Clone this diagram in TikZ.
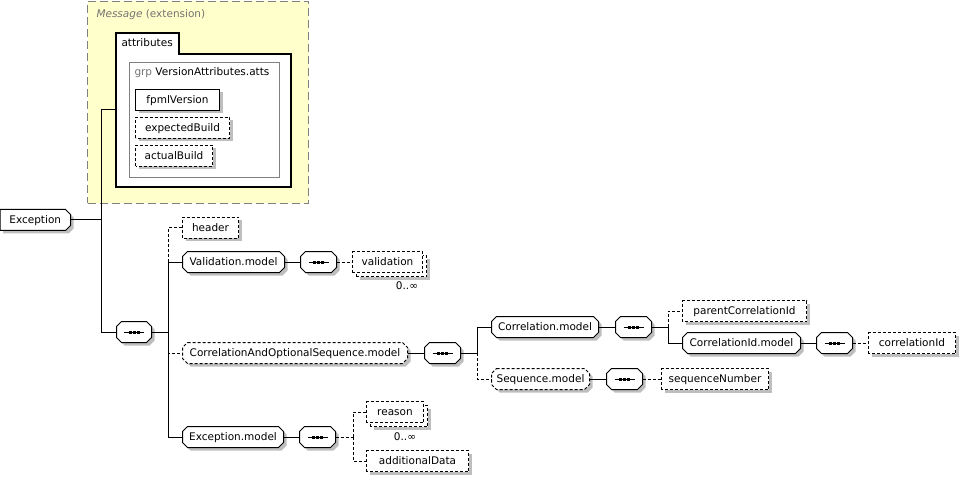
\documentclass[tikz,border=0pt]{standalone}
\usepackage{fontspec}
\setmainfont{DejaVu Sans}
\definecolor{shgray}{RGB}{190,190,190}
\definecolor{msgyellow}{RGB}{255,255,204}
\definecolor{msggray}{RGB}{128,128,128}
\definecolor{titlegray}{RGB}{115,115,115}
\pgfdeclarelayer{back}
\pgfdeclarelayer{shapes}
\pgfsetlayers{back,shapes,main}
\tikzset{
  every node/.style={font=\fontsize{10.5}{12}\selectfont, inner sep=0pt},
  box/.style={rectangle, minimum height=20pt, text height=8pt, text depth=1.5pt},
  opt/.style={dash pattern=on 3pt off 2pt},
  conn/.style={line width=1pt},
  optconn/.style={line width=1pt, dash pattern=on 3pt off 2pt},
  outline/.style={draw=black, fill=white, line width=1pt},
  shadowfill/.style={fill=shgray, draw=none},
}
% rectangle element with shadow
\newcommand\elemshape[2][]{%
  \fill[shadowfill] ([shift={(3pt,-3pt)}]#2.south west) rectangle ([shift={(3pt,-3pt)}]#2.north east);
  \draw[outline,#1] (#2.south west) rectangle (#2.north east);}
% repeated element (0..n)
\newcommand\multishape[1]{%
  \fill[shadowfill] ([shift={(7pt,-7pt)}]#1.south west) rectangle ([shift={(7pt,-7pt)}]#1.north east);
  \draw[outline,opt] ([shift={(4pt,-4pt)}]#1.south west) rectangle ([shift={(4pt,-4pt)}]#1.north east);
  \draw[outline,opt] (#1.south west) rectangle (#1.north east);}
% octagon path
\newcommand\octpath[3]{([shift={(#2+5pt,#3)}]#1.north west) -- ([shift={(#2-5pt,#3)}]#1.north east) -- ([shift={(#2,#3-5pt)}]#1.north east) -- ([shift={(#2,#3+5pt)}]#1.south east) -- ([shift={(#2-5pt,#3)}]#1.south east) -- ([shift={(#2+5pt,#3)}]#1.south west) -- ([shift={(#2,#3+5pt)}]#1.south west) -- ([shift={(#2,#3-5pt)}]#1.north west) -- cycle}
\newcommand\octshape[2][]{%
  \fill[shadowfill] \octpath{#2}{3pt}{-3pt};
  \draw[outline,#1] \octpath{#2}{0pt}{0pt};}
% compositor (sequence) icon
\newcommand\seqicon[1]{%
  \draw[line width=1pt] ([xshift=-10pt]#1.center) -- ([xshift=10pt]#1.center);
  \foreach \d in {-4pt,0pt,4pt}
    \fill ([xshift=\d]#1.center) +(-1.5pt,-1.5pt) rectangle +(1.5pt,1.5pt);}
\begin{document}
\begin{tikzpicture}[x=1pt, y=-1pt, line width=1pt]
\useasboundingbox (0,0) rectangle (960,478);

% ---------- nodes (text) ----------
\node[anchor=base west, text=titlegray] (msgtitle) at (96,17.5) {\itshape Message\upshape{} (extension)};
\node[anchor=base west] (attrlabel) at (121,47) {attributes};
\coordinate (attrL) at (116,110);
\node[anchor=base west] (grptitle) at (134,76) {\textcolor{titlegray}{grp} VersionAttributes.atts};

\node[box, minimum width=83pt] (fpml) at (177.5,100) {fpmlVersion};
\node[box, minimum width=93pt] (expb) at (182.5,128) {expectedBuild};
\node[box, minimum width=76pt] (actb) at (174,156) {actualBuild};

\node[box, minimum width=69.5pt] (exc) at (35.25,220) {Exception};

\node[box, minimum width=34pt] (seq1) at (134,332) {};
\node[box, minimum width=55pt] (header) at (210.5,228) {header};
\node[box, minimum width=101pt] (valm) at (233.5,262) {Validation.model};
\node[box, minimum width=35pt] (seq2) at (318.5,262) {};
\node[box, minimum width=69pt] (valid) at (387.5,262) {validation};
\node (validmult) at (407,286) {0..∞};

\node[box, minimum width=224pt] (corropt) at (295,353) {CorrelationAndOptionalSequence.model};
\node[box, minimum width=35pt] (seq3) at (442.5,353) {};
\node[box, minimum width=106pt] (corrm) at (545,327) {Correlation.model};
\node[box, minimum width=35pt] (seq4) at (633.5,327) {};
\node[box, minimum width=123pt] (parent) at (744.5,311) {parentCorrelationId};
\node[box, minimum width=117pt] (corridm) at (741.5,343) {CorrelationId.model};
\node[box, minimum width=35pt] (seq5) at (834.5,343) {};
\node[box, minimum width=86pt] (corrid) at (912,343) {correlationId};
\node[box, minimum width=97pt] (seqm) at (540.5,379) {Sequence.model};
\node[box, minimum width=35pt] (seq6) at (624.5,379) {};
\node[box, minimum width=106pt] (seqnum) at (715,379) {sequenceNumber};

\node[box, minimum width=100pt] (excm) at (233,437) {Exception.model};
\node[box, minimum width=35pt] (seq7) at (317.5,437) {};
\node[box, minimum width=56pt] (reason) at (395,412) {reason};
\node (reasonmult) at (405,437) {0..∞};
\node[box, minimum width=101pt] (adddata) at (417.5,461) {additionalData};

% compositor icons
\seqicon{seq1}\seqicon{seq2}\seqicon{seq3}\seqicon{seq4}\seqicon{seq5}\seqicon{seq6}\seqicon{seq7}

% ---------- node shapes ----------
\begin{pgfonlayer}{shapes}
  \elemshape{fpml}
  \elemshape[opt]{expb}
  \elemshape[opt]{actb}
  % root: right corners cut
  \fill[shadowfill] ([shift={(3pt,-3pt)}]exc.north west) -- ([shift={(-2pt,-3pt)}]exc.north east) -- ([shift={(3pt,-8pt)}]exc.north east) -- ([shift={(3pt,2pt)}]exc.south east) -- ([shift={(-2pt,-3pt)}]exc.south east) -- ([shift={(3pt,-3pt)}]exc.south west) -- cycle;
  \draw[outline] (exc.north west) -- ([xshift=-5pt]exc.north east) -- ([yshift=-5pt]exc.north east) -- ([yshift=5pt]exc.south east) -- ([xshift=-5pt]exc.south east) -- (exc.south west) -- cycle;
  \octshape{seq1}
  \elemshape[opt]{header}
  \octshape{valm}
  \octshape{seq2}
  \multishape{valid}
  \octshape[opt]{corropt}
  \octshape{seq3}
  \octshape{corrm}
  \octshape{seq4}
  \elemshape[opt]{parent}
  \octshape{corridm}
  \octshape{seq5}
  \elemshape[opt]{corrid}
  \octshape[opt]{seqm}
  \octshape{seq6}
  \elemshape[opt]{seqnum}
  \octshape{excm}
  \octshape{seq7}
  \multishape{reason}
  \elemshape[opt]{adddata}
\end{pgfonlayer}

% ---------- background containers ----------
\begin{pgfonlayer}{back}
  \node[draw=msggray, fill=msgyellow, dash pattern=on 8pt off 4pt, line width=1.3pt,
        minimum width=221pt, minimum height=202pt, anchor=north west] (msg) at (87,0.7) {};
  \draw[line width=1.2pt, fill=white] (116,187) -- (116,33) -- (179,33) -- (179,54) -- (291,54) -- (291,187) -- cycle;
  \node[draw=msggray, line width=1pt, minimum width=150pt, minimum height=115pt, anchor=north west] (grp) at (129,62) {};
\end{pgfonlayer}

% ---------- connectors ----------
\coordinate (j1) at (101,220);
\draw[conn] (exc.east) -- (j1);
\draw[conn] (j1) |- (attrL);
\draw[conn] (j1) |- (seq1.west);

\coordinate (j2) at (168,332);
\draw[conn] (seq1.east) -- (j2);
\draw[optconn] (j2) |- (header.west);
\draw[optconn] (j2) |- (corropt.west);
\draw[conn] (j2) |- (valm.west);
\draw[conn] (j2) |- (excm.west);

\draw[conn] (valm.east) -- (seq2.west);
\draw[optconn] (seq2.east) -- (valid.west);

\draw[conn] (corropt.east) -- (seq3.west);
\coordinate (j3) at (477,353);
\draw[conn] (seq3.east) -- (j3);
\draw[optconn] (j3) |- (seqm.west);
\draw[conn] (j3) |- (corrm.west);
\draw[conn] (corrm.east) -- (seq4.west);
\coordinate (j4) at (668,327);
\draw[conn] (seq4.east) -- (j4);
\draw[optconn] (j4) |- (parent.west);
\draw[conn] (j4) |- (corridm.west);
\draw[conn] (corridm.east) -- (seq5.west);
\draw[optconn] (seq5.east) -- (corrid.west);
\draw[conn] (seqm.east) -- (seq6.west);
\draw[optconn] (seq6.east) -- (seqnum.west);

\draw[conn] (excm.east) -- (seq7.west);
\coordinate (j5) at (353,437);
\draw[optconn] (seq7.east) -- (j5);
\draw[optconn] (j5) |- (reason.west);
\draw[optconn] (j5) |- (adddata.west);
\end{tikzpicture}
\end{document}
